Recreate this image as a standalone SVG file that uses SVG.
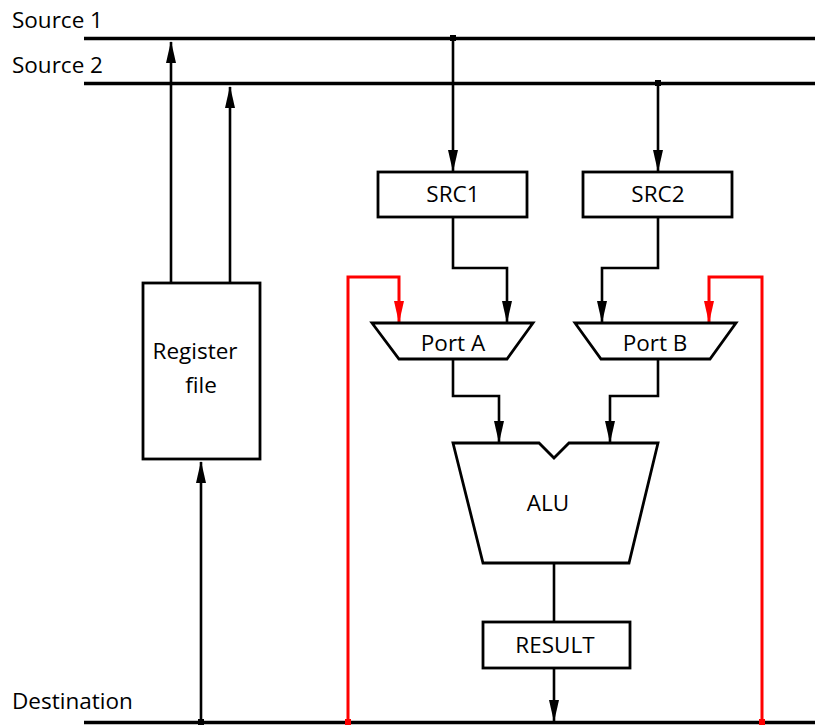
<svg xmlns="http://www.w3.org/2000/svg" width="815" height="727" viewBox="0 0 815 727">
  <style>
    text { font-family: "Open Sans", "Noto Sans", sans-serif; font-size: 22.5px; fill: #000; }
    .mid { text-anchor: middle; }
    .box { fill: #fff; stroke: #000; stroke-width: 2.8; }
    .bus { stroke: #000; stroke-width: 3.4; fill: none; }
    .wire { stroke: #000; stroke-width: 2.6; fill: none; }
    .red { stroke: #ff0000; stroke-width: 3; fill: none; }
  </style>
  <defs>
    <marker id="ah" markerUnits="userSpaceOnUse" markerWidth="22" markerHeight="12" refX="21" refY="6" orient="auto" viewBox="0 0 22 12">
      <path d="M0,1 L22,6 L0,11 z" fill="#000"/>
    </marker>
    <marker id="ahr" markerUnits="userSpaceOnUse" markerWidth="22" markerHeight="12" refX="21" refY="6" orient="auto" viewBox="0 0 22 12">
      <path d="M0,1 L22,6 L0,11 z" fill="#ff0000"/>
    </marker>
  </defs>

  <!-- bus labels -->
  <text x="12" y="28">Source 1</text>
  <text x="12" y="73">Source 2</text>
  <text x="12" y="709">Destination</text>

  <!-- buses -->
  <g id="buses">
    <line class="bus" x1="84" y1="38.5" x2="815" y2="38.5"/>
    <line class="bus" x1="84" y1="83.5" x2="815" y2="83.5"/>
    <line class="bus" x1="84" y1="722.5" x2="815" y2="722.5"/>
  </g>

  <!-- connectors -->
  <g id="connectors">
    <line class="wire" x1="171" y1="283" x2="171" y2="42" marker-end="url(#ah)"/>
    <line class="wire" x1="230" y1="283" x2="230" y2="87" marker-end="url(#ah)"/>
    <line class="wire" x1="201" y1="722" x2="201" y2="462" marker-end="url(#ah)"/>
    <line class="wire" x1="453" y1="38" x2="453" y2="171" marker-end="url(#ah)"/>
    <line class="wire" x1="658" y1="83" x2="658" y2="171" marker-end="url(#ah)"/>
    <polyline class="wire" points="453,217 453,268 507,268 507,322" marker-end="url(#ah)"/>
    <polyline class="wire" points="658,217 658,268 602,268 602,322" marker-end="url(#ah)"/>
    <polyline class="wire" points="453,359 453,396 499,396 499,442" marker-end="url(#ah)"/>
    <polyline class="wire" points="658,359 658,396 610,396 610,442" marker-end="url(#ah)"/>
    <line class="wire" x1="554" y1="563" x2="554" y2="622"/>
    <line class="wire" x1="554" y1="668" x2="554" y2="721" marker-end="url(#ah)"/>
    <polyline class="red" points="348,722 348,277 399,277 399,322" marker-end="url(#ahr)"/>
    <polyline class="red" points="762,722 762,277 709,277 709,322" marker-end="url(#ahr)"/>
    <!-- junction dots -->
    <rect x="450" y="35" width="6" height="6" fill="#000"/>
    <rect x="655" y="80" width="6" height="6" fill="#000"/>
    <rect x="198" y="719" width="6" height="6" fill="#000"/>
    <rect x="345" y="719" width="6" height="6" fill="#ff0000"/>
    <rect x="759" y="719" width="6" height="6" fill="#ff0000"/>
  </g>

  <g id="regfile">
    <rect class="box" x="143" y="283" width="117" height="176"/>
    <text class="mid" x="195" y="359">Register</text>
    <text class="mid" x="201" y="393">file</text>
  </g>

  <g id="src1">
    <rect class="box" x="378" y="172" width="149" height="45"/>
    <text class="mid" x="453" y="202">SRC1</text>
  </g>

  <g id="src2">
    <rect class="box" x="583" y="172" width="149" height="45"/>
    <text class="mid" x="658" y="202">SRC2</text>
  </g>

  <g id="portA">
    <polygon class="box" points="372,323 533,323 507,359 399,359"/>
    <text class="mid" x="453" y="351">Port A</text>
  </g>

  <g id="portB">
    <polygon class="box" points="575,323 736,323 710,359 601,359"/>
    <text class="mid" x="655" y="351">Port B</text>
  </g>

  <g id="alu">
    <polygon class="box" points="453,443 539,443 554,458 569,443 658,443 629,563 483,563"/>
    <text class="mid" x="548" y="511">ALU</text>
  </g>

  <g id="result">
    <rect class="box" x="483" y="622" width="147" height="46"/>
    <text class="mid" x="555" y="653">RESULT</text>
  </g>
</svg>
